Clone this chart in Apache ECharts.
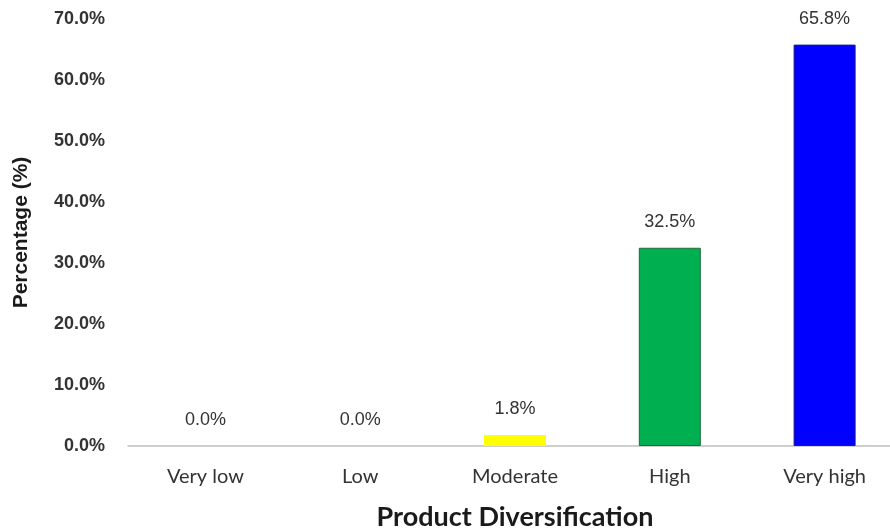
<!DOCTYPE html>
<html>
<head>
<meta charset="utf-8">
<script src="https://cdn.jsdelivr.net/npm/echarts@6/dist/echarts.min.js"></script>
<style>
  html, body { margin: 0; padding: 0; background: #fff; }
  #chart { width: 890px; height: 530px; }
</style>
</head>
<body>
<div id="chart"></div>
<script>
const categories = ['Very low', 'Low', 'Moderate', 'High', 'Very high']
const percentages = [0.0, 0.0, 1.8, 32.5, 65.8]
const barColors = ['#FFFF00', '#FFFF00', '#FFFF00', '#00B050', '#0000FF']
const barBorders = ['#FFFF00', '#FFFF00', '#FFFF00', '#1E6B35', '#1A1A8C']

const font = 'Lato, "Open Sans", sans-serif'
const arial = '"Liberation Sans", Arial, sans-serif'

const chart = echarts.init(document.getElementById('chart'))
chart.setOption({
  backgroundColor: '#fff',
  animation: false,
  grid: { left: 128, top: 19, width: 774, bottom: 84, outerBoundsMode: 'none', containLabel: false },
  xAxis: {
    type: 'category',
    data: categories,
    name: 'Product Diversification',
    nameLocation: 'middle',
    nameGap: 58,
    nameTextStyle: { fontFamily: font, fontSize: 27, fontWeight: 'bold', color: '#1a1a1a' },
    axisLine: { lineStyle: { color: '#BFBFBF', width: 1.5 } },
    axisTick: { show: false },
    axisLabel: { fontFamily: font, fontSize: 20, color: '#333', margin: 21 }
  },
  yAxis: {
    type: 'value',
    min: 0,
    max: 70,
    interval: 10,
    name: 'Percentage (%)',
    nameLocation: 'middle',
    nameGap: 96,
    nameTextStyle: { fontFamily: arial, fontSize: 21, fontWeight: 'bold', color: '#1a1a1a' },
    axisLine: { show: false },
    axisTick: { show: false },
    splitLine: { show: false },
    axisLabel: {
      fontFamily: arial, fontSize: 18, fontWeight: 'bold', color: '#333', margin: 23,
      formatter: (v) => v.toFixed(1) + '%'
    }
  },
  series: [{
    type: 'bar',
    barWidth: 62,
    data: percentages.map((v, i) => ({
      value: v,
      itemStyle: { color: barColors[i], borderColor: barBorders[i], borderWidth: v > 5 ? 1 : 0 }
    })),
    label: {
      show: true,
      position: 'top',
      distance: 17,
      fontFamily: arial,
      fontSize: 18,
      color: '#333',
      formatter: (p) => p.value.toFixed(1) + '%'
    }
  }]
})
</script>
</body>
</html>
